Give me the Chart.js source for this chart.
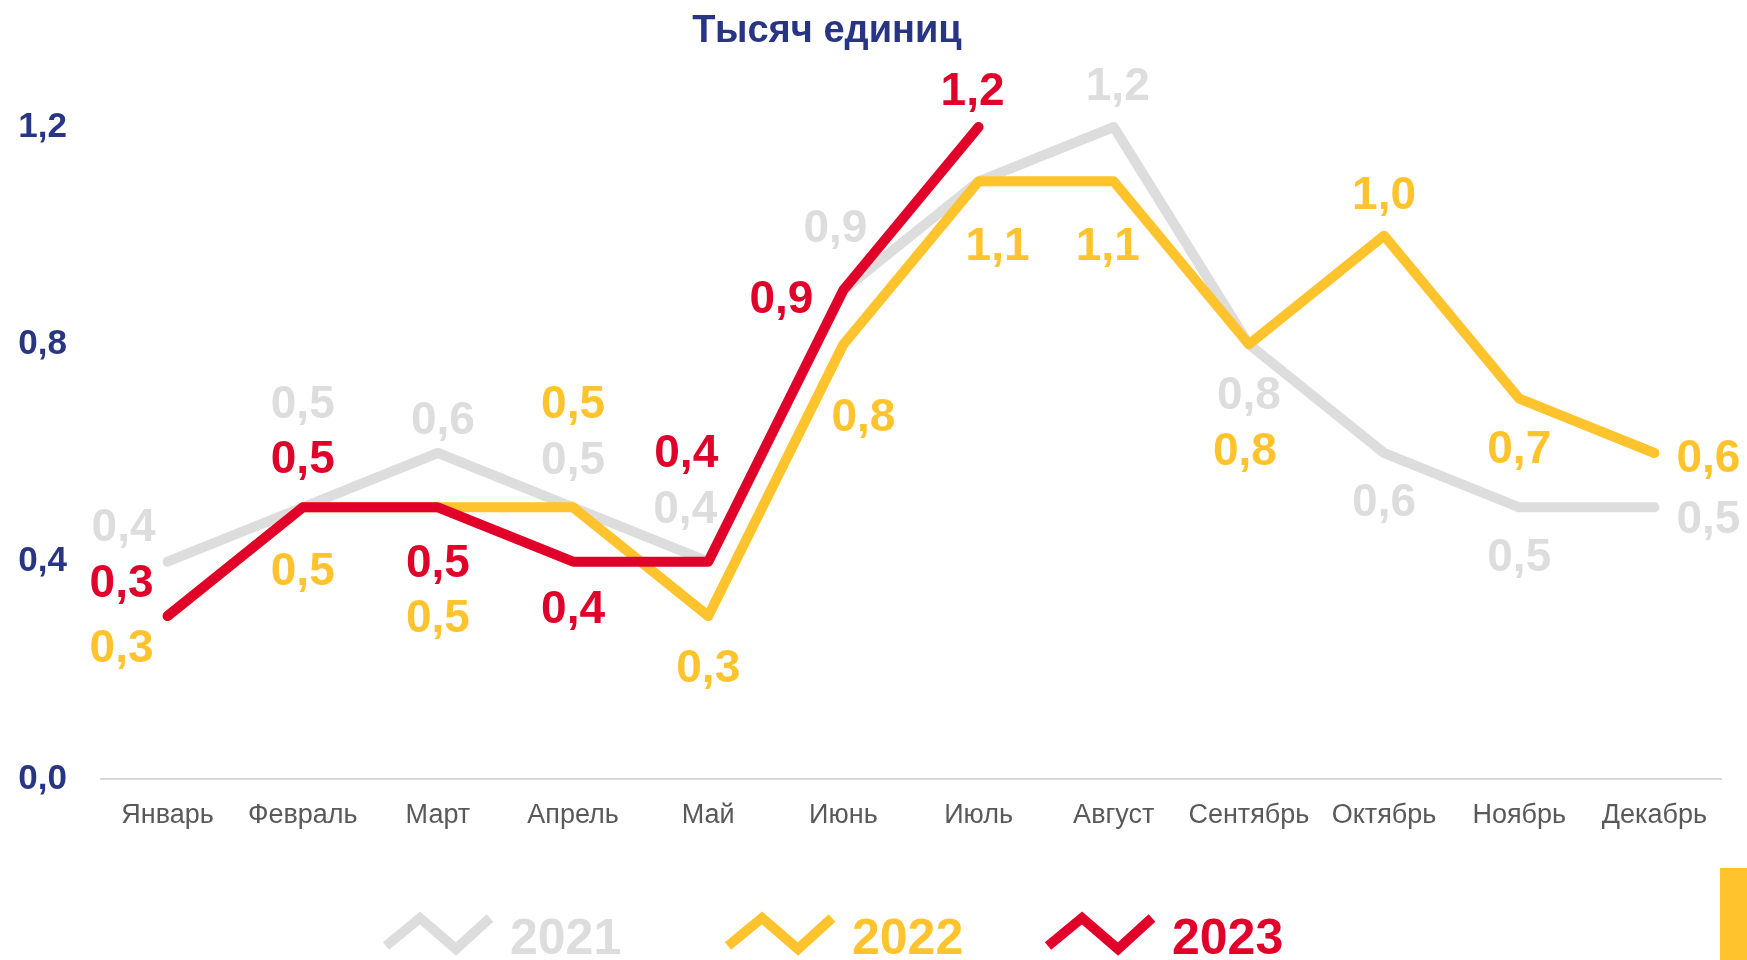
<!DOCTYPE html>
<html lang="ru">
<head>
<meta charset="utf-8">
<title>Тысяч единиц</title>
<script src="https://cdn.jsdelivr.net/npm/chart.js@4.4.1/dist/chart.umd.min.js"></script>
<style>
  html, body { margin: 0; padding: 0; background: #fff; }
  #wrap { position: relative; width: 1747px; height: 960px; }
  #tab { position: absolute; left: 1720px; top: 868px; width: 27px; height: 92px; background: #ffc32d; }
</style>
</head>
<body>
<div id="wrap">
  <canvas id="chart"></canvas>
  <div id="tab"></div>
</div>
<script>
const months = ["Январь", "Февраль", "Март", "Апрель", "Май", "Июнь", "Июль", "Август", "Сентябрь", "Октябрь", "Ноябрь", "Декабрь"];
const years = ["2021", "2022", "2023"];
const sales2021 = [0.4, 0.5, 0.6, 0.5, 0.4, 0.9, 1.1, 1.2, 0.8, 0.6, 0.5, 0.5];
const sales2022 = [0.3, 0.5, 0.5, 0.5, 0.3, 0.8, 1.1, 1.1, 0.8, 1.0, 0.7, 0.6];
const sales2023 = [0.3, 0.5, 0.5, 0.4, 0.4, 0.9, 1.2, null, null, null, null, null];
const yTicks = [0, 0.4, 0.8, 1.2];

// where each value label sits relative to its point (dx, dy), null = no label
const offsets2021 = [[-44, -37], [0, -106], [5, -35], [0, -50], [-23, -55], [-8, -64], null, [4, -43], [0, 48], [0, 47], [0, 47], [54, 9]];
const offsets2022 = [[-46, 30], [0, 61], [0, 108], [0, -106], [0, 50], [20, 70], [19, 62], [-6, 62], [-4, 104], [0, -43], [0, 48], [54, 3]];
const offsets2023 = [[-46, -35], [0, -51], [0, 53], [0, 45], [-22, -111], [-62, 7], [-6, -38]];

const FONT = '"Liberation Sans", Arial, sans-serif';
const NAVY = "#283583";
const GRAY = "#dddddd";
const YELLOW = "#ffc32d";
const RED = "#e1002a";

const fmt = (v) => v.toFixed(1).replace(".", ",");

const valueLabels = {
  id: "valueLabels",
  afterDatasetsDraw(chart) {
    const ctx = chart.ctx;
    const size = 46;
    ctx.save();
    ctx.font = "bold " + size + "px " + FONT;
    ctx.textAlign = "center";
    ctx.textBaseline = "alphabetic";
    chart.data.datasets.forEach((ds, i) => {
      const meta = chart.getDatasetMeta(i);
      ctx.fillStyle = ds.borderColor;
      meta.data.forEach((pt, j) => {
        const v = ds.data[j];
        const off = ds.labelOffsets[j];
        if (v == null || !off) return;
        ctx.fillText(fmt(v), pt.x + off[0], pt.y + off[1] + size * 0.358);
      });
    });
    ctx.restore();
  }
};

const titleAndLegend = {
  id: "titleAndLegend",
  afterDraw(chart) {
    const ctx = chart.ctx;
    ctx.save();
    ctx.font = "bold 38px " + FONT;
    ctx.fillStyle = NAVY;
    ctx.textAlign = "center";
    ctx.fillText("Тысяч единиц", 827, 42);

    // zigzag legend at the bottom
    const starts = [381, 723, 1043];
    ctx.font = "bold 50px " + FONT;
    ctx.textAlign = "left";
    chart.data.datasets.forEach((ds, i) => {
      const x0 = starts[i];
      ctx.strokeStyle = ds.borderColor;
      ctx.lineWidth = 10;
      ctx.lineJoin = "miter";
      ctx.lineCap = "butt";
      ctx.beginPath();
      ctx.moveTo(x0 + 5, 946);
      ctx.lineTo(x0 + 39, 918);
      ctx.lineTo(x0 + 75, 949);
      ctx.lineTo(x0 + 109, 918);
      ctx.stroke();
      ctx.fillStyle = ds.borderColor;
      ctx.fillText(ds.label, x0 + 129, 954);
    });
    ctx.restore();
  }
};

const makeSet = (label, data, color, offs, order) => ({
  label: label,
  data: data,
  borderColor: color,
  backgroundColor: color,
  borderWidth: 10,
  borderCapStyle: "round",
  borderJoinStyle: "round",
  pointRadius: 0,
  pointHoverRadius: 0,
  tension: 0,
  clip: false,
  order: order,
  labelOffsets: offs
});

new Chart(document.getElementById("chart"), {
  type: "line",
  data: {
    labels: months,
    datasets: [
      makeSet(years[0], sales2021, GRAY, offsets2021, 3),
      makeSet(years[1], sales2022, YELLOW, offsets2022, 2),
      makeSet(years[2], sales2023, RED, offsets2023, 1)
    ]
  },
  options: {
    responsive: true,
    maintainAspectRatio: false,
    animation: false,
    events: [],
    layout: { padding: { top: 127, left: 0, right: 25, bottom: 121 } },
    plugins: {
      legend: { display: false },
      title: { display: false },
      tooltip: { enabled: false }
    },
    scales: {
      x: {
        offset: true,
        grid: { display: false, drawTicks: false },
        border: { display: false },
        ticks: {
          color: "#595959",
          font: { family: FONT, size: 27 },
          padding: 20,
          maxRotation: 0,
          autoSkip: false
        },
        afterFit(s) { s.height = 60; }
      },
      y: {
        min: 0,
        max: 1.2,
        afterBuildTicks(s) { s.ticks = yTicks.map((v) => ({ value: v })); },
        grid: {
          drawTicks: false,
          color: (c) => (c.tick && c.tick.value === 0 ? "#d9d9d9" : "rgba(0,0,0,0)"),
          lineWidth: 2
        },
        border: { display: false },
        ticks: {
          color: NAVY,
          font: { family: FONT, size: 35, weight: "bold" },
          padding: 33,
          callback: (v) => fmt(Number(v))
        },
        afterFit(s) { s.width = 100; }
      }
    }
  },
  plugins: [valueLabels, titleAndLegend]
});
</script>
</body>
</html>
